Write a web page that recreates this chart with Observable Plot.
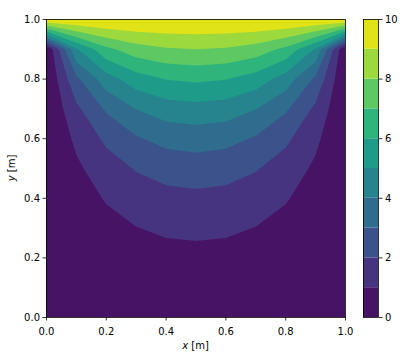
<!DOCTYPE html>
<html><head><meta charset="utf-8">
<script src="https://cdn.jsdelivr.net/npm/d3@7"></script>
<script src="https://cdn.jsdelivr.net/npm/@observablehq/plot@0.6"></script>
<style>
body{margin:0;background:#fff;}
#wrap{position:relative;width:409px;height:361px;font-family:"DejaVu Sans",sans-serif;}
#wrap svg{position:absolute;top:0;overflow:visible;}
</style></head><body><div id="wrap"></div>
<script>
// grid node positions [m]
const xNodes = [0, 0.1, 0.2, 0.3, 0.4, 0.5, 0.6, 0.7, 0.8, 0.9, 1.0];
const yNodes = [0, 0.1, 0.2, 0.3, 0.4, 0.5, 0.6, 0.7, 0.8, 0.9, 1.0];
// temperature rows, bottom (y = 0) to top (y = 1)
const T_y00 = [0, 0, 0, 0, 0, 0, 0, 0, 0, 0, 0];
const T_y01 = [0, 0.111, 0.210, 0.288, 0.337, 0.354, 0.337, 0.288, 0.210, 0.111, 0];
const T_y02 = [0, 0.233, 0.441, 0.604, 0.707, 0.742, 0.707, 0.604, 0.441, 0.233, 0];
const T_y03 = [0, 0.380, 0.718, 0.980, 1.144, 1.200, 1.144, 0.980, 0.718, 0.380, 0];
const T_y04 = [0, 0.570, 1.071, 1.453, 1.690, 1.770, 1.690, 1.453, 1.071, 0.570, 0];
const T_y05 = [0, 0.829, 1.542, 2.072, 2.393, 2.500, 2.393, 2.072, 1.542, 0.829, 0];
const T_y06 = [0, 1.204, 2.197, 2.900, 3.310, 3.444, 3.310, 2.900, 2.197, 1.204, 0];
const T_y07 = [0, 1.789, 3.141, 4.021, 4.503, 4.656, 4.503, 4.021, 3.141, 1.789, 0];
const T_y08 = [0, 2.809, 4.559, 5.538, 6.027, 6.175, 6.027, 5.538, 4.559, 2.809, 0];
const T_y09 = [0, 4.890, 6.748, 7.544, 7.890, 7.989, 7.890, 7.544, 6.748, 4.890, 0];
const T_y10 = [10, 10, 10, 10, 10, 10, 10, 10, 10, 10, 10];
// contour levels and tick labels
const levelEdges = [0, 1, 2, 3, 4, 5, 6, 7, 8, 9, 10];
const axisTicks = [0, 0.2, 0.4, 0.6, 0.8, 1.0];
const barTicks = [0, 2, 4, 6, 8, 10];

const rows = [T_y00, T_y01, T_y02, T_y03, T_y04, T_y05, T_y06, T_y07, T_y08, T_y09, T_y10];
const values = rows.flat();
const nx = xNodes.length, ny = yNodes.length;
const hx = (xNodes[nx - 1] - xNodes[0]) / (nx - 1) / 2;
const hy = (yNodes[ny - 1] - yNodes[0]) / (ny - 1) / 2;
const thresholds = levelEdges.slice(0, -1);
const bands = thresholds.map((lo, i) => ({lo, hi: levelEdges[i + 1]}));
const color = {type: "linear", scheme: "viridis", domain: [levelEdges[0] - 0.5, levelEdges[levelEdges.length - 2] + 0.5]};
const font = {fontFamily: "DejaVu Sans", fontSize: "10px", color: "#000", background: "transparent", overflow: "visible"};
const fmt = d3.format(".1f");

const main = Plot.plot({
  width: 409, height: 361,
  marginLeft: 46, marginRight: 64, marginTop: 19, marginBottom: 44,
  style: font,
  x: {domain: [0, 1]},
  y: {domain: [0, 1]},
  color,
  marks: [
    Plot.contour(values, {
      width: nx, height: ny,
      x1: xNodes[0] - hx, x2: xNodes[nx - 1] + hx,
      y1: yNodes[0] - hy, y2: yNodes[ny - 1] + hy,
      fill: Plot.identity, thresholds, clip: true
    }),
    Plot.frame({stroke: "#000", strokeWidth: 0.8}),
    Plot.axisX({ticks: axisTicks, tickFormat: fmt, tickSize: 3.5, tickPadding: 7, label: null, strokeWidth: 0.8}),
    Plot.axisY({ticks: axisTicks, tickFormat: fmt, tickSize: 3.5, tickPadding: 3, label: null, strokeWidth: 0.8})
  ]
});

const bar = Plot.plot({
  width: 54, height: 361,
  marginLeft: 8, marginRight: 31, marginTop: 19, marginBottom: 44,
  style: font,
  x: {domain: [0, 1], axis: null},
  y: {domain: [levelEdges[0], levelEdges[levelEdges.length - 1]]},
  color,
  marks: [
    Plot.rect(bands, {x1: 0, x2: 1, y1: "lo", y2: "hi", fill: "lo"}),
    Plot.frame({stroke: "#000", strokeWidth: 0.8}),
    Plot.axisY({anchor: "right", ticks: barTicks, tickSize: 3.5, tickPadding: 3, label: null, strokeWidth: 0.8})
  ]
});

const wrap = document.getElementById("wrap");
main.style.left = "0px";
bar.style.left = "355px";
wrap.appendChild(main);
wrap.appendChild(bar);

const svg = d3.select(main);
const xl = svg.append("text").attr("x", 195.5).attr("y", 349).attr("text-anchor", "middle")
  .attr("font-family", "DejaVu Sans").attr("font-size", 10).attr("fill", "#000");
xl.append("tspan").attr("font-style", "italic").text("x");
xl.append("tspan").text(" [m]");
const yl = svg.append("text").attr("transform", "translate(15,168) rotate(-90)").attr("text-anchor", "middle")
  .attr("font-family", "DejaVu Sans").attr("font-size", 10).attr("fill", "#000");
yl.append("tspan").attr("font-style", "italic").text("y");
yl.append("tspan").text(" [m]");
</script></body></html>
